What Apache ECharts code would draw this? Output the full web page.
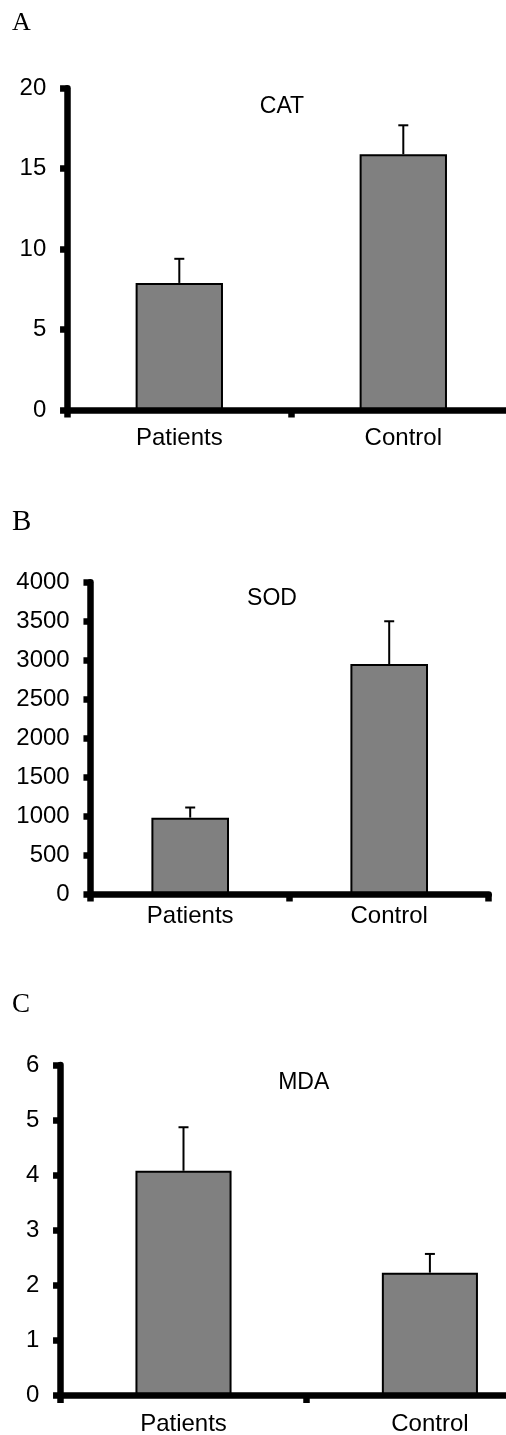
<!DOCTYPE html>
<html>
<head>
<meta charset="utf-8">
<script src="https://cdn.jsdelivr.net/npm/echarts@6/dist/echarts.min.js"></script>
<style>
  html, body { margin: 0; padding: 0; background: #fff; }
  #chart { width: 506px; height: 1435px; }
</style>
</head>
<body>
<div id="chart"></div>
<script>
// ---- data ----
const categories = ['Patients', 'Control'];

const catMeans = [7.9, 15.9];
const catSD = [1.5, 1.8];
const catTicks = { min: 0, max: 20, interval: 5 };

const sodMeans = [980, 2950];
const sodSD = [130, 550];
const sodTicks = { min: 0, max: 4000, interval: 500 };

const mdaMeans = [4.08, 2.23];
const mdaSD = [0.79, 0.34];
const mdaTicks = { min: 0, max: 6, interval: 1 };

const panelTitles = ['CAT', 'SOD', 'MDA'];
const panelLetters = ['A', 'B', 'C'];

// ---- layout ----
const grids = [
  { left: 67.3, top: 88.3, width: 448, height: 321.7 },
  { left: 90.7, top: 582.3, width: 398, height: 311.7 },
  { left: 60.3, top: 1065, width: 492.8, height: 330.5 }
];
const xLabelMargins = [16, 10, 17];
const titlePos = [[282, 106.3], [272, 598.8], [303.7, 1082.8]];
const letterPos = [[12, 23.5, 26], [12, 522, 29], [12, 1004.5, 27]];

const font = 'Liberation Sans, Arial, sans-serif';
const axisW = 6.5;

const panels = [
  { means: catMeans, sd: catSD, ticks: catTicks },
  { means: sodMeans, sd: sodSD, ticks: sodTicks },
  { means: mdaMeans, sd: mdaSD, ticks: mdaTicks }
];

const xAxes = [], yAxes = [], series = [], graphics = [];
panels.forEach((p, i) => {
  xAxes.push({
    type: 'category', gridIndex: i, data: categories, boundaryGap: true, z: 5,
    axisLine: { lineStyle: { color: '#000', width: axisW } },
    axisTick: { show: true, length: 7.5, alignWithLabel: false, lineStyle: { color: '#000', width: axisW } },
    axisLabel: { color: '#000', fontSize: 24, fontFamily: font, margin: xLabelMargins[i] },
    splitLine: { show: false }
  });
  yAxes.push({
    type: 'value', gridIndex: i, min: p.ticks.min, max: p.ticks.max, interval: p.ticks.interval, z: 5,
    axisLine: { show: true, lineStyle: { color: '#000', width: axisW } },
    axisTick: { show: true, length: 7.25, lineStyle: { color: '#000', width: axisW } },
    axisLabel: { color: '#000', fontSize: 24, fontFamily: font, margin: 21, formatter: v => String(v) },
    splitLine: { show: false }
  });
  series.push({
    type: 'bar', xAxisIndex: i, yAxisIndex: i, data: p.means, barWidth: '39%',
    itemStyle: { color: '#808080', borderColor: '#000', borderWidth: 2 },
    silent: true
  });
  const errData = p.means.map((m, k) => [k, m, m + p.sd[k]]);
  series.push({
    type: 'custom', xAxisIndex: i, yAxisIndex: i, data: errData, z: 3, silent: true,
    renderItem: function (params, api) {
      const x = api.value(0);
      const lo = api.coord([x, api.value(1)]);
      const hi = api.coord([x, api.value(2)]);
      const cap = 5;
      return {
        type: 'group',
        children: [
          { type: 'line', shape: { x1: lo[0], y1: lo[1], x2: hi[0], y2: hi[1] }, style: { stroke: '#000', lineWidth: 2 } },
          { type: 'line', shape: { x1: hi[0] - cap, y1: hi[1], x2: hi[0] + cap, y2: hi[1] }, style: { stroke: '#000', lineWidth: 2 } }
        ]
      };
    }
  });
  graphics.push({
    type: 'text', x: titlePos[i][0], y: titlePos[i][1],
    style: { text: panelTitles[i], fill: '#000', font: '23px ' + font, textAlign: 'center', textVerticalAlign: 'middle' }
  });
  graphics.push({
    type: 'text', x: letterPos[i][0], y: letterPos[i][1],
    style: { text: panelLetters[i], fill: '#000', font: letterPos[i][2] + 'px Liberation Serif, Times New Roman, serif', textAlign: 'left', textVerticalAlign: 'middle' }
  });
});

const chart = echarts.init(document.getElementById('chart'), null, { renderer: 'canvas' });
chart.setOption({
  animation: false,
  backgroundColor: '#fff',
  grid: grids.map(g => Object.assign({ containLabel: false, outerBoundsMode: 'none' }, g)),
  xAxis: xAxes,
  yAxis: yAxes,
  series: series,
  graphic: graphics
});
</script>
</body>
</html>
